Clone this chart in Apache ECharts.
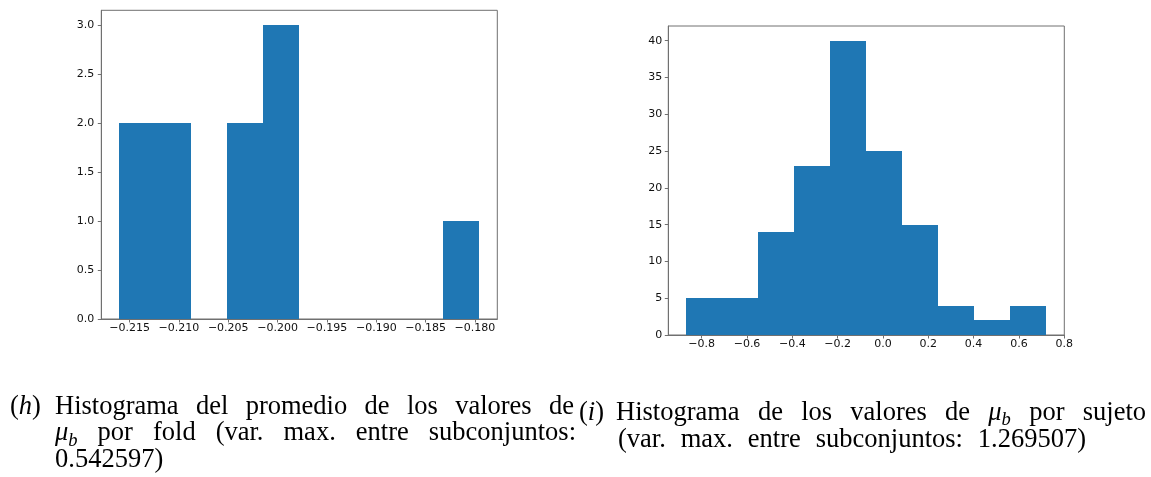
<!DOCTYPE html>
<html><head><meta charset="utf-8">
<script src="https://cdn.jsdelivr.net/npm/echarts@6/dist/echarts.min.js"></script>
<style>html,body{margin:0;padding:0;background:#fff}#c{width:1151px;height:477px}</style>
</head><body><div id="c"></div>
<script>
// ---- data ----
const leftEdges = [-0.21604, -0.21239, -0.20874, -0.20510, -0.20145, -0.19780, -0.19415, -0.19050, -0.18686, -0.18321, -0.17956];
const leftCounts = [2, 2, 0, 2, 3, 0, 0, 0, 0, 1];
const leftXTicks = [-0.215, -0.210, -0.205, -0.200, -0.195, -0.190, -0.185, -0.180];
const leftYTicks = [0, 0.5, 1.0, 1.5, 2.0, 2.5, 3.0];

const rightEdges = [-0.868, -0.709, -0.550, -0.391, -0.232, -0.073, 0.086, 0.245, 0.403, 0.562, 0.721];
const rightCounts = [5, 5, 14, 23, 40, 25, 15, 4, 2, 4];
const rightXTicks = [-0.8, -0.6, -0.4, -0.2, 0.0, 0.2, 0.4, 0.6, 0.8];
const rightYTicks = [0, 5, 10, 15, 20, 25, 30, 35, 40];

const captionHLines = ['Histograma del promedio de los valores de', '$μ_b$ por fold (var. max. entre subconjuntos:', '0.542597)'];
const captionILines = ['Histograma de los valores de $μ_b$ por sujeto', '(var. max. entre subconjuntos: 1.269507)'];

// ---- helpers ----
const BLUE = '#1f77b4';
const SPINE = '#707070';
const TXT = '#111';
const TICKFONT = 'DejaVu Sans';
const TICKFS = 11;

function fmt(v, d) {
  const s = Math.abs(v).toFixed(d);
  return (v < -1e-12 ? '\u2212' : '') + s;
}
function range(edges) {
  const lo = edges[0], hi = edges[edges.length - 1], m = 0.05 * (hi - lo);
  return [lo - m, hi + m];
}
function xAxisCfg(gi, edges, ticks, d) {
  const r = range(edges);
  return {
    type: 'value', gridIndex: gi, min: r[0], max: r[1],
    axisLine: {show: true, onZero: false, lineStyle: {color: SPINE, width: 1}},
    splitLine: {show: false},
    axisTick: {show: true, inside: false, length: 3.5, lineStyle: {color: SPINE}, customValues: ticks},
    axisLabel: {customValues: ticks, formatter: v => fmt(v, d), fontSize: TICKFS, color: TXT, margin: 3.5, fontFamily: TICKFONT}
  };
}
function yAxisCfg(gi, counts, ticks, d, margin) {
  return {
    type: 'value', gridIndex: gi, min: 0, max: 1.05 * Math.max(...counts),
    axisLine: {show: true, onZero: false, lineStyle: {color: SPINE, width: 1}},
    splitLine: {show: false},
    axisTick: {show: true, inside: false, length: 3.5, lineStyle: {color: SPINE}, customValues: ticks},
    axisLabel: {customValues: ticks, formatter: v => fmt(v, d), fontSize: TICKFS, color: TXT, margin: margin, fontFamily: TICKFONT}
  };
}
function histSeries(i, edges, counts) {
  return {
    type: 'custom', xAxisIndex: i, yAxisIndex: i, silent: true, animation: false,
    data: counts.map((c, k) => [edges[k], edges[k + 1], c]),
    encode: {x: [0, 1], y: 2},
    renderItem(params, api) {
      if (api.value(2) <= 0) return null;
      const p0 = api.coord([api.value(0), api.value(2)]);
      const p1 = api.coord([api.value(1), 0]);
      const x0 = Math.round(p0[0]), x1 = Math.round(p1[0]);
      const y0 = Math.round(p0[1]), y1 = p1[1];
      return {type: 'rect', shape: {x: x0, y: y0, width: x1 - x0, height: y1 - y0},
        style: {fill: BLUE}};
    }
  };
}

// ---- caption layout (justified words) ----
const FS = 26.5;
const SERIF = 'Liberation Serif';
const mctx = document.createElement('canvas').getContext('2d');
function parseWord(w) {
  if (w.indexOf('$') >= 0) {
    const inner = w.replace(/\$/g, '');
    const parts = inner.split('_');
    return [{t: parts[0], it: true, sub: false}, {t: parts[1], it: true, sub: true}];
  }
  return [{t: w, it: false, sub: false}];
}
function segSize(s) { return s.sub ? FS * 0.7 : FS; }
function segW(s) {
  mctx.font = (s.it ? 'italic ' : '') + segSize(s) + 'px "' + SERIF + '"';
  return mctx.measureText(s.t).width;
}
function wordW(segs) { return segs.reduce((a, s) => a + segW(s), 0); }
function textEl(s, x, baseline) {
  const size = segSize(s);
  const bl = s.sub ? baseline + 0.18 * FS : baseline;
  return {type: 'text', x: x, y: bl - 0.3375 * size, silent: true,
    style: {text: s.t, fontSize: size, fontFamily: SERIF, fontStyle: s.it ? 'italic' : 'normal', fill: '#000', align: 'left', verticalAlign: 'middle'}};
}
function layoutLine(line, x0, x1, baseline, out) {
  const words = line.split(' ').map(parseWord);
  const widths = words.map(wordW);
  const total = widths.reduce((a, b) => a + b, 0);
  mctx.font = FS + 'px "' + SERIF + '"';
  const gap = (x1 == null || words.length < 2) ? mctx.measureText(' ').width * 1.3 : (x1 - x0 - total) / (words.length - 1);
  let x = x0;
  words.forEach((segs, k) => {
    let sx = x;
    segs.forEach(s => { out.push(textEl(s, sx, baseline)); sx += segW(s); });
    x += widths[k] + gap;
  });
}
function layoutLabel(letter, x, baseline, out) {
  [{t: '(', it: false}, {t: letter, it: true}, {t: ')', it: false}].forEach(s => { out.push(textEl(s, x, baseline)); x += segW(s); });
}
const graphics = [];
layoutLabel('h', 10, 415.7, graphics);
layoutLine(captionHLines[0], 55, 574, 415.7, graphics);
layoutLine(captionHLines[1], 55, 576, 442.2, graphics);
layoutLine(captionHLines[2], 55, null, 469.3, graphics);
layoutLabel('i', 579, 421.7, graphics);
layoutLine(captionILines[0], 616, 1146, 421.7, graphics);
layoutLine(captionILines[1], 618, 1086, 449, graphics);

const chart = echarts.init(document.getElementById('c'), null, {renderer: 'canvas'});
chart.setOption({
  animation: false,
  backgroundColor: '#fff',
  grid: [
    {left: 101.3, top: 10.3, width: 396, height: 308.7, show: true, borderColor: SPINE, borderWidth: 1, backgroundColor: 'transparent'},
    {left: 668.3, top: 26, width: 396, height: 309, show: true, borderColor: SPINE, borderWidth: 1, backgroundColor: 'transparent'}
  ],
  xAxis: [xAxisCfg(0, leftEdges, leftXTicks, 3), xAxisCfg(1, rightEdges, rightXTicks, 1)],
  yAxis: [yAxisCfg(0, leftCounts, leftYTicks, 1, 7), yAxisCfg(1, rightCounts, rightYTicks, 0, 6)],
  series: [histSeries(0, leftEdges, leftCounts), histSeries(1, rightEdges, rightCounts)],
  graphic: graphics
});
</script>
</body></html>
